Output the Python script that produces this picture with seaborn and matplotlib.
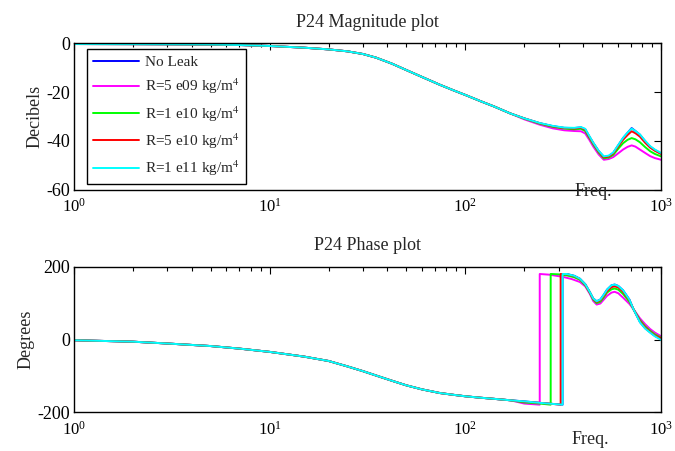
import numpy as np
import pandas as pd
import matplotlib
matplotlib.use("Agg")
import matplotlib.pyplot as plt
import seaborn as sns

# ---------------- data ----------------
series_names = ["No Leak", "R=5 e09 kg/m$^4$", "R=1 e10 kg/m$^4$",
                "R=5 e10 kg/m$^4$", "R=1 e11 kg/m$^4$"]
series_colors = ["#0000ff", "#ff00ff", "#00ff00", "#ff0000", "#00ffff"]

freq_low = [1, 2, 3, 5, 7, 10, 15, 20, 25, 30, 35, 42, 50, 60, 74, 87, 100, 120, 140, 170]
mag_low = [-0.3, -0.35, -0.4, -0.5, -0.7, -1.1, -1.8, -2.5, -3.3, -4.4, -5.9, -8.3,
           -11.0, -13.8, -17.0, -19.3, -21.2, -23.8, -25.9, -28.8]
phase_low = [-2, -6, -11, -18, -25, -34, -47, -59, -74, -87, -99, -113, -126, -137,
             -147, -152, -156, -160, -163, -167]

freq_mag_high = [200, 240, 280, 320, 360, 390, 410, 430, 450, 480, 510, 540, 570, 610,
                 640, 675, 708, 740, 780, 830, 880, 930, 1000]
mag_noleak = [-30.8, -32.8, -34.0, -34.7, -34.8, -34.5, -35.3, -38.2, -40.8, -44.2, -46.6,
              -46.3, -45.0, -41.4, -38.9, -36.7, -34.8, -36.0, -37.5, -40.2, -42.4, -43.8, -45.2]
mag_r5e09 = [-31.2, -33.4, -34.9, -35.7, -36.0, -36.1, -37.0, -39.6, -42.3, -45.6, -47.8,
             -47.5, -46.7, -44.9, -43.6, -42.5, -41.9, -42.4, -43.6, -45.0, -46.3, -47.1, -47.8]
mag_r1e10 = [-30.9, -33.0, -34.3, -35.0, -35.3, -35.1, -36.0, -38.8, -41.4, -44.8, -47.2,
             -46.9, -45.8, -42.9, -41.0, -39.6, -38.9, -39.4, -40.6, -42.6, -44.3, -45.4, -46.4]
mag_r5e10 = [-30.8, -32.8, -34.1, -34.8, -35.0, -34.7, -35.5, -38.4, -41.0, -44.4, -46.8,
             -46.5, -45.2, -41.9, -39.6, -37.6, -36.1, -36.9, -38.3, -40.8, -42.8, -44.1, -45.4]
mag_r1e11 = [-30.8, -32.7, -33.9, -34.6, -34.7, -34.4, -35.1, -38.0, -40.7, -44.1, -46.4,
             -46.1, -44.8, -41.3, -38.8, -36.6, -35.0, -36.0, -37.4, -40.0, -42.2, -43.6, -45.0]

freq_ph_noleak = [200, 240, 280, 314, 314, 330, 360, 385, 410, 433, 450, 469, 490, 507, 530,
                  559, 580, 605, 640, 689, 722, 781, 830, 879, 930, 1000]
ph_noleak = [-170, -174, -177, -179, 180, 180, 175, 167, 152, 130, 113, 105, 110, 121, 137,
             149, 151, 147, 135, 110, 84, 48, 31, 20, 10, 1]
freq_ph_r5e09 = [200, 240, 240, 270, 316, 350, 385, 410, 433, 450, 469, 490, 507, 530, 559,
                 580, 605, 640, 689, 722, 781, 830, 879, 930, 1000]
ph_r5e09 = [-176, -179, 180, 178, 172, 166, 158, 146, 125, 106, 96, 99, 108, 120, 129,
            131, 127, 115, 98, 84, 58, 42, 29, 19, 9]
freq_ph_r1e10 = [200, 240, 273, 273, 300, 330, 360, 385, 410, 433, 450, 469, 490, 507, 530,
                 559, 580, 605, 640, 689, 722, 781, 830, 879, 930, 1000]
ph_r1e10 = [-173, -176, -179, 180, 179, 176, 171, 164, 149, 128, 110, 100, 104, 114, 129,
            138, 140, 137, 125, 104, 84, 53, 36, 24, 14, 5]
freq_ph_r5e10 = [200, 240, 280, 307, 307, 330, 360, 385, 410, 433, 450, 469, 490, 507, 530,
                 559, 580, 605, 640, 689, 722, 781, 830, 879, 930, 1000]
ph_r5e10 = [-171, -174, -177, -179, 180, 179, 174, 166, 151, 129, 112, 103, 108, 118, 133,
            144, 146, 143, 131, 108, 84, 50, 33, 21, 11, 3]
freq_ph_r1e11 = [200, 240, 280, 314, 314, 330, 360, 385, 410, 433, 450, 469, 490, 507, 530,
                 559, 580, 605, 640, 689, 722, 781, 830, 879, 930, 1000]
ph_r1e11 = [-170, -174, -177, -179, 180, 180, 175, 167, 152, 130, 113, 105, 110, 121, 137,
            149, 151, 147, 135, 110, 84, 47, 30, 19, 9, -1]

mag_high = [mag_noleak, mag_r5e09, mag_r1e10, mag_r5e10, mag_r1e11]
ph_freqs = [freq_ph_noleak, freq_ph_r5e09, freq_ph_r1e10, freq_ph_r5e10, freq_ph_r1e11]
ph_high = [ph_noleak, ph_r5e09, ph_r1e10, ph_r5e10, ph_r1e11]

rows_mag, rows_ph = [], []
for name, mh, pf, ph in zip(series_names, mag_high, ph_freqs, ph_high):
    for f, v in zip(freq_low + freq_mag_high, mag_low + mh):
        rows_mag.append((name, f, v))
    for f, v in zip(freq_low + pf, phase_low + ph):
        rows_ph.append((name, f, v))
df_mag = pd.DataFrame(rows_mag, columns=["series", "freq", "value"])
df_ph = pd.DataFrame(rows_ph, columns=["series", "freq", "value"])

# ---------------- style ----------------
sns.set_theme(style="white")
plt.rcParams["font.family"] = ["Liberation Serif", "DejaVu Serif"]
plt.rcParams["mathtext.fontset"] = "stix"
plt.rcParams["axes.unicode_minus"] = False
plt.rcParams["axes.edgecolor"] = "black"
plt.rcParams["axes.linewidth"] = 1.0

fig = plt.figure(figsize=(6.75, 4.51), dpi=100)
ax1 = fig.add_axes([74 / 675, 1 - 189.5 / 451, 587 / 675, 146.2 / 451])
ax2 = fig.add_axes([74 / 675, 1 - 412.3 / 451, 587 / 675, 145.6 / 451])

palette = dict(zip(series_names, series_colors))
for ax, df in ((ax1, df_mag), (ax2, df_ph)):
    sns.lineplot(data=df, x="freq", y="value", hue="series", hue_order=series_names,
                 palette=palette, estimator=None, sort=False, legend=False,
                 linewidth=1.4, ax=ax)
    ax.set_xscale("log")
    ax.set_xlim(1, 1000)
    ax.set_xlabel("")
    ax.tick_params(which="both", direction="in", top=True, right=True, colors="black")
    ax.tick_params(axis="x", labelsize=12, pad=6)
    ax.tick_params(axis="y", labelsize=13, pad=3)
    ax.tick_params(which="major", length=5, width=0.8)
    ax.tick_params(which="minor", length=3, width=0.8)
    for s in ax.spines.values():
        s.set_visible(True)
        s.set_color("black")

ax1.set_ylim(-60, 0)
ax1.set_yticks([0, -20, -40, -60])
ax1.set_ylabel("Decibels", fontsize=13, labelpad=2)
ax1.set_title("P24 Magnitude plot", fontsize=13, pad=12)
ax1.text(0.884, -0.017, "Freq.", transform=ax1.transAxes, ha="center", va="center", fontsize=13)

ax2.set_ylim(-200, 200)
ax2.set_yticks([-200, 0, 200])
ax2.set_ylabel("Degrees", fontsize=13, labelpad=2)
ax2.set_title("P24 Phase plot", fontsize=13, pad=12)
ax2.text(0.879, -0.13, "Freq.", transform=ax2.transAxes, ha="center", va="top", fontsize=13)

handles = ax1.get_lines()[:5]
leg = ax1.legend(handles, series_names, loc="upper left",
                 bbox_to_anchor=(0.0216, 0.959), borderaxespad=0, fontsize=11,
                 frameon=True, fancybox=False, edgecolor="black", framealpha=1,
                 handlelength=3.0, handletextpad=0.4, labelspacing=0.5,
                 borderpad=0.4)
leg.get_frame().set_linewidth(1.0)

fig.savefig("out.png", dpi=100)
